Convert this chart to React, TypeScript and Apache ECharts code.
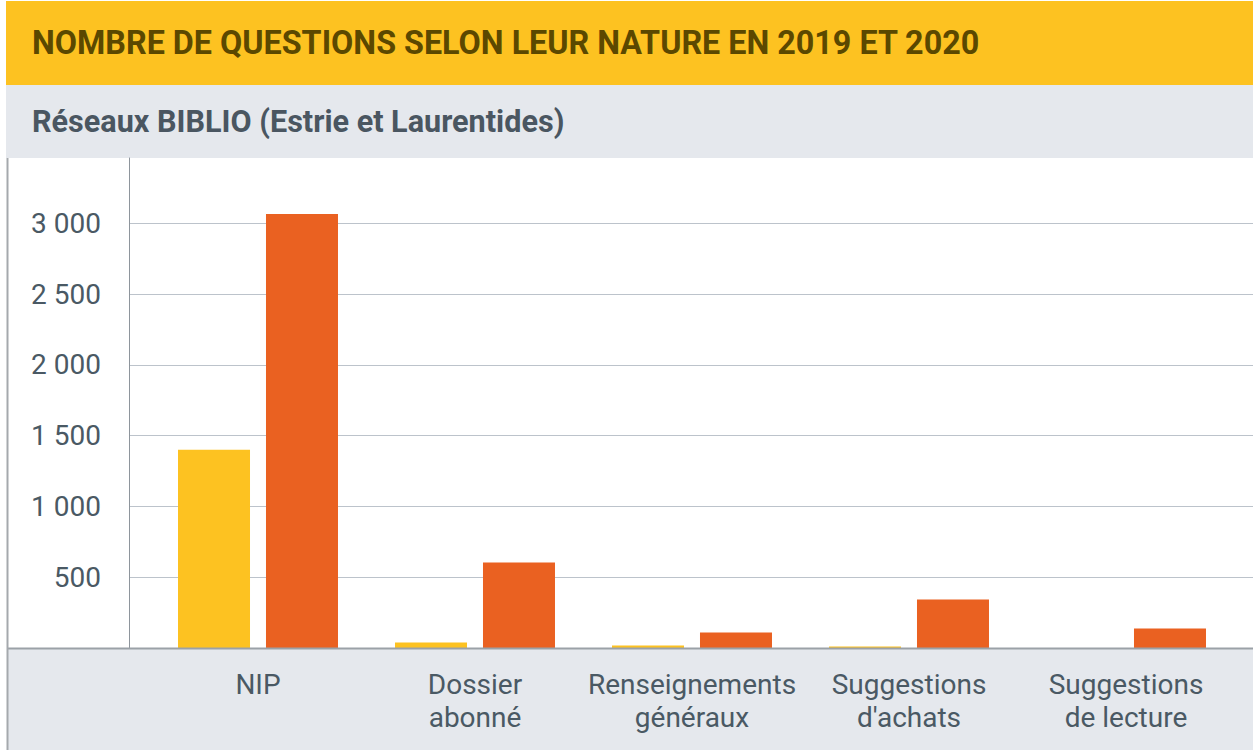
import React, { useEffect, useRef } from "react";
import * as echarts from "echarts";

const TITLE = "NOMBRE DE QUESTIONS SELON LEUR NATURE EN 2019 ET 2020";
const SUBTITLE = "Réseaux BIBLIO (Estrie et Laurentides)";
const categories = [
  "NIP",
  "Dossier\nabonné",
  "Renseignements\ngénéraux",
  "Suggestions\nd'achats",
  "Suggestions\nde lecture",
];
const seriesNames = ["2019", "2020"];
const values2019 = [1400, 38, 17, 10, 0];
const values2020 = [3065, 604, 109, 342, 137];
const yTicks = [500, 1000, 1500, 2000, 2500, 3000];
const Y_MAX = 3461;
const Y_INTERVAL = 500;

const YELLOW = "#FDC221";
const ORANGE = "#EA6121";
const BAND = "#E5E8ED";
const TEXT = "#4A5964";
const FONT = "Roboto";

const fmt = (v: number) =>
  String(v).replace(/\B(?=(\d{3})+(?!\d))/g, " ");

export default function App() {
  const ref = useRef<HTMLDivElement>(null);
  useEffect(() => {
    if (!ref.current) return;
    const chart = echarts.init(ref.current, undefined, { renderer: "svg" });
    chart.setOption({
      animation: false,
      backgroundColor: "#ffffff",
      title: [
        {
          text: TITLE,
          left: 32,
          top: 27,
          padding: 0,
          z: 20,
          textStyle: {
            fontFamily: FONT,
            fontWeight: "bold",
            fontSize: 32.3,
            lineHeight: 32,
            color: "#5B4800",
          },
        },
        {
          text: SUBTITLE,
          left: 32,
          top: 106,
          padding: 0,
          z: 20,
          textStyle: {
            fontFamily: FONT,
            fontWeight: "bold",
            fontSize: 30.6,
            lineHeight: 31,
            color: "#4A5661",
          },
        },
      ],
      graphic: [
        {
          type: "rect",
          z: -10,
          shape: { x: 6, y: 1, width: 1260, height: 84 },
          style: { fill: YELLOW },
        },
        {
          type: "rect",
          z: -10,
          shape: { x: 6, y: 85, width: 1260, height: 73 },
          style: { fill: BAND },
        },
        {
          type: "rect",
          z: -10,
          shape: { x: 7, y: 649, width: 1260, height: 110 },
          style: { fill: BAND },
        },
        {
          type: "line",
          z: 5,
          shape: { x1: 7, y1: 648.5, x2: 1260, y2: 648.5 },
          style: { stroke: "#9BA1A7", lineWidth: 2 },
        },
        {
          type: "line",
          z: 5,
          shape: { x1: 7.5, y1: 158, x2: 7.5, y2: 760 },
          style: { stroke: "#A5A9AD", lineWidth: 2 },
        },
      ],
      grid: [
        { left: 129, right: 0, top: 158, bottom: 102 },
        { left: 149.5, right: 18.5, top: 158, bottom: 102 },
      ],
      xAxis: [
        {
          gridIndex: 0,
          type: "category",
          data: categories,
          show: false,
        },
        {
          gridIndex: 1,
          type: "category",
          data: categories,
          axisLine: { show: false },
          axisTick: { show: false },
          axisLabel: {
            margin: 20,
            fontFamily: FONT,
            fontSize: 28,
            lineHeight: 33,
            color: TEXT,
            verticalAlign: "top",
            interval: 0,
          },
        },
      ],
      yAxis: [
        {
          gridIndex: 0,
          type: "value",
          min: 0,
          max: Y_MAX,
          interval: Y_INTERVAL,
          axisLine: { show: true, lineStyle: { color: "#8E959C", width: 1 } },
          axisTick: { show: false },
          axisLabel: {
            showMinLabel: false,
            showMaxLabel: false,
            margin: 28,
            fontFamily: FONT,
            fontSize: 28,
            color: TEXT,
            formatter: (v: number) => (yTicks.includes(v) ? fmt(v) : ""),
          },
          splitLine: {
            show: true,
            showMinLine: false,
            showMaxLine: false,
            lineStyle: { color: "#BCC3CB", width: 1 },
          },
        },
        {
          gridIndex: 1,
          type: "value",
          min: 0,
          max: Y_MAX,
          interval: Y_INTERVAL,
          show: false,
          splitLine: { show: false },
        },
      ],
      series: [
        {
          name: seriesNames[0],
          type: "bar",
          xAxisIndex: 1,
          yAxisIndex: 1,
          data: values2019,
          barWidth: 72,
          barGap: "22.2%",
          itemStyle: { color: YELLOW },
        },
        {
          name: seriesNames[1],
          type: "bar",
          xAxisIndex: 1,
          yAxisIndex: 1,
          data: values2020,
          barWidth: 72,
          barGap: "22.2%",
          itemStyle: { color: ORANGE },
        },
      ],
    });
    return () => chart.dispose();
  }, []);
  return (
    <div
      ref={ref}
      style={{ position: "absolute", left: 0, top: 0, width: 1253, height: 750 }}
    />
  );
}
